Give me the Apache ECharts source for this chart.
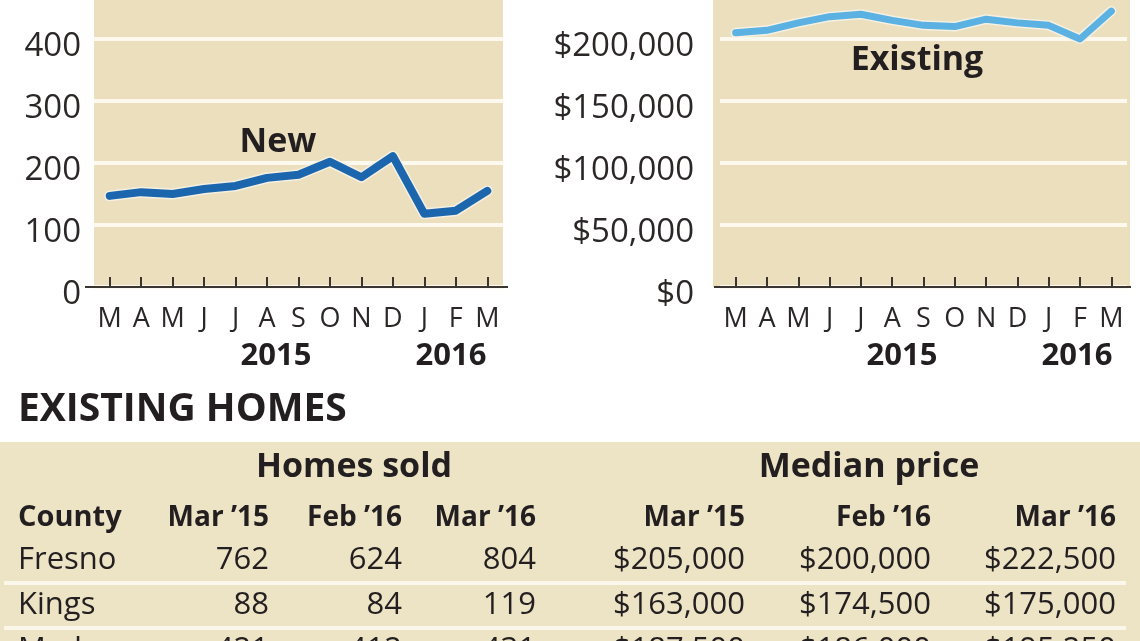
<!DOCTYPE html>
<html><head><meta charset="utf-8">
<script src="https://cdn.jsdelivr.net/npm/echarts@6/dist/echarts.min.js"></script>
<style>html,body{margin:0;padding:0;background:#fff;}#c{width:1140px;height:641px;}</style>
</head><body><div id="c"></div>
<script>
// ---- data ----
const months = ['M','A','M','J','J','A','S','O','N','D','J','F','M'];
const newSales = [147,153,150,158,163,176,181,202,177,211,118,123,155];
const existingPrice = [205000,207000,213000,218000,220000,215000,211000,210000,216000,213000,211000,200000,222500];
const yearLabels = ['2015','2016'];
const counties = ['Fresno','Kings','Madera'];
const soldMar15 = ['762','88','421'];
const soldFeb16 = ['624','84','412'];
const soldMar16 = ['804','119','431'];
const priceMar15 = ['$205,000','$163,000','$187,500'];
const priceFeb16 = ['$200,000','$174,500','$186,000'];
const priceMar16 = ['$222,500','$175,000','$195,250'];
const colHeaders = ['Mar \u201915','Feb \u201916','Mar \u201916'];

// ---- styles ----
const FONT = '"Open Sans", "Noto Sans", sans-serif';
const INK = '#231f20';
const TAN = '#ebdfbd';
const TABLE_TAN = '#ede3c5';
const GRIDLINE = '#fdf9ef';
const AXIS = '#3a3530';

function txt(text, x, y, size, weight, align, opts) {
  return Object.assign({
    type: 'text', x: x, y: y, z: 10,
    style: {
      text: text, fill: INK,
      font: (weight || 'normal') + ' ' + size + 'px ' + FONT,
      align: align || 'left', textAlign: align || 'left',
      verticalAlign: 'middle', textVerticalAlign: 'middle'
    }
  }, opts || {});
}

const graphics = [
  {type:'rect', z:-100, shape:{x:94, y:0, width:409, height:287}, style:{fill:TAN}},
  {type:'rect', z:-100, shape:{x:713, y:0, width:417, height:287}, style:{fill:TAN}},
  {type:'rect', z:-100, shape:{x:0, y:442, width:1140, height:199}, style:{fill:TABLE_TAN}},
  {type:'line', z:-90, shape:{x1:85, y1:287, x2:508, y2:287}, style:{stroke:AXIS, lineWidth:2}},
  {type:'line', z:-90, shape:{x1:714, y1:287, x2:1131, y2:287}, style:{stroke:AXIS, lineWidth:2}},
  txt('New', 278, 142, 34, 'bold', 'center'),
  txt('Existing', 917, 60, 34, 'bold', 'center'),
  txt(yearLabels[0], 276, 356, 31, 'bold', 'center'),
  txt(yearLabels[1], 451, 356, 31, 'bold', 'center'),
  txt(yearLabels[0], 902, 356, 31, 'bold', 'center'),
  txt(yearLabels[1], 1077, 356, 31, 'bold', 'center'),
  txt('EXISTING HOMES', 18, 410, 39, 'bold', 'left'),
  txt('Homes sold', 354, 467, 34, 'bold', 'center'),
  txt('Median price', 869, 467, 34, 'bold', 'center'),
  txt('County', 18, 518, 29, 'bold', 'left')
];
const soldRight = [269, 402, 536];
const priceRight = [745, 931, 1116];
colHeaders.forEach((h, i) => {
  graphics.push(txt(h, soldRight[i], 518, 28, 'bold', 'right'));
  graphics.push(txt(h, priceRight[i], 518, 28, 'bold', 'right'));
});
const rowY = [560, 605, 650];
const soldCols = [soldMar15, soldFeb16, soldMar16];
const priceCols = [priceMar15, priceFeb16, priceMar16];
counties.forEach((c, r) => {
  graphics.push(txt(c, 18, rowY[r], 31, 'normal', 'left'));
  soldCols.forEach((col, i) => graphics.push(txt(col[r], soldRight[i], rowY[r], 31, 'normal', 'right')));
  priceCols.forEach((col, i) => graphics.push(txt(col[r], priceRight[i], rowY[r], 31, 'normal', 'right')));
  if (r < counties.length - 1) {
    graphics.push({type:'line', z:-50, shape:{x1:4, y1:rowY[r]+23, x2:1126, y2:rowY[r]+23}, style:{stroke:'#fbf7ea', lineWidth:4}});
  }
});

function xAxisCfg(gi) {
  return {
    type:'category', gridIndex: gi, data: months, boundaryGap: true,
    axisLine:{show:true, lineStyle:{color:AXIS, width:2}},
    axisTick:{show:true, alignWithLabel:true, inside:true, length:10, interval:0, lineStyle:{color:AXIS, width:2}},
    axisLabel:{fontFamily:FONT, fontSize:27, color:'#2b2727', margin:19, interval:0, hideOverlap:false},
    splitLine:{show:false}
  };
}
function yAxisCfg(gi, max, interval, fmt) {
  return {
    type:'value', gridIndex: gi, min:0, max:max, interval:interval,
    axisLine:{show:false}, axisTick:{show:false},
    axisLabel:{fontFamily:FONT, fontSize:33, color:'#2b2727', margin: gi===0 ? 13 : 26,
      verticalAlign:'top', lineHeight:16, formatter: fmt},
    splitLine:{show:true, lineStyle:{color:GRIDLINE, width:4}}
  };
}

const chart = echarts.init(document.getElementById('c'), null, {renderer:'canvas'});
chart.setOption({
  animation:false,
  backgroundColor:'#ffffff',
  grid:[
    {left:94, width:409, top:-23, height:310, containLabel:false, outerBoundsMode:'none'},
    {left:720, width:407, top:-23, height:310, containLabel:false, outerBoundsMode:'none'}
  ],
  xAxis:[xAxisCfg(0), xAxisCfg(1)],
  yAxis:[
    yAxisCfg(0, 500, 100, v => String(v)),
    yAxisCfg(1, 250000, 50000, v => '$' + Number(v).toLocaleString('en-US'))
  ],
  series:[
    {type:'line', xAxisIndex:0, yAxisIndex:0, data:newSales, symbol:'none', silent:true, z:3,
     lineStyle:{color:'#f4f0e2', width:11, join:'round', cap:'round'}},
    {type:'line', xAxisIndex:0, yAxisIndex:0, data:newSales, symbol:'none', z:4,
     lineStyle:{color:'#1c66ae', width:8, join:'round', cap:'round'}},
    {type:'line', xAxisIndex:1, yAxisIndex:1, data:existingPrice, symbol:'none', silent:true, z:3,
     lineStyle:{color:'#f4f0e2', width:10, join:'round', cap:'round'}},
    {type:'line', xAxisIndex:1, yAxisIndex:1, data:existingPrice, symbol:'none', z:4,
     lineStyle:{color:'#5bb1e1', width:7, join:'round', cap:'round'}}
  ],
  graphic:{elements:graphics}
});
</script></body></html>
